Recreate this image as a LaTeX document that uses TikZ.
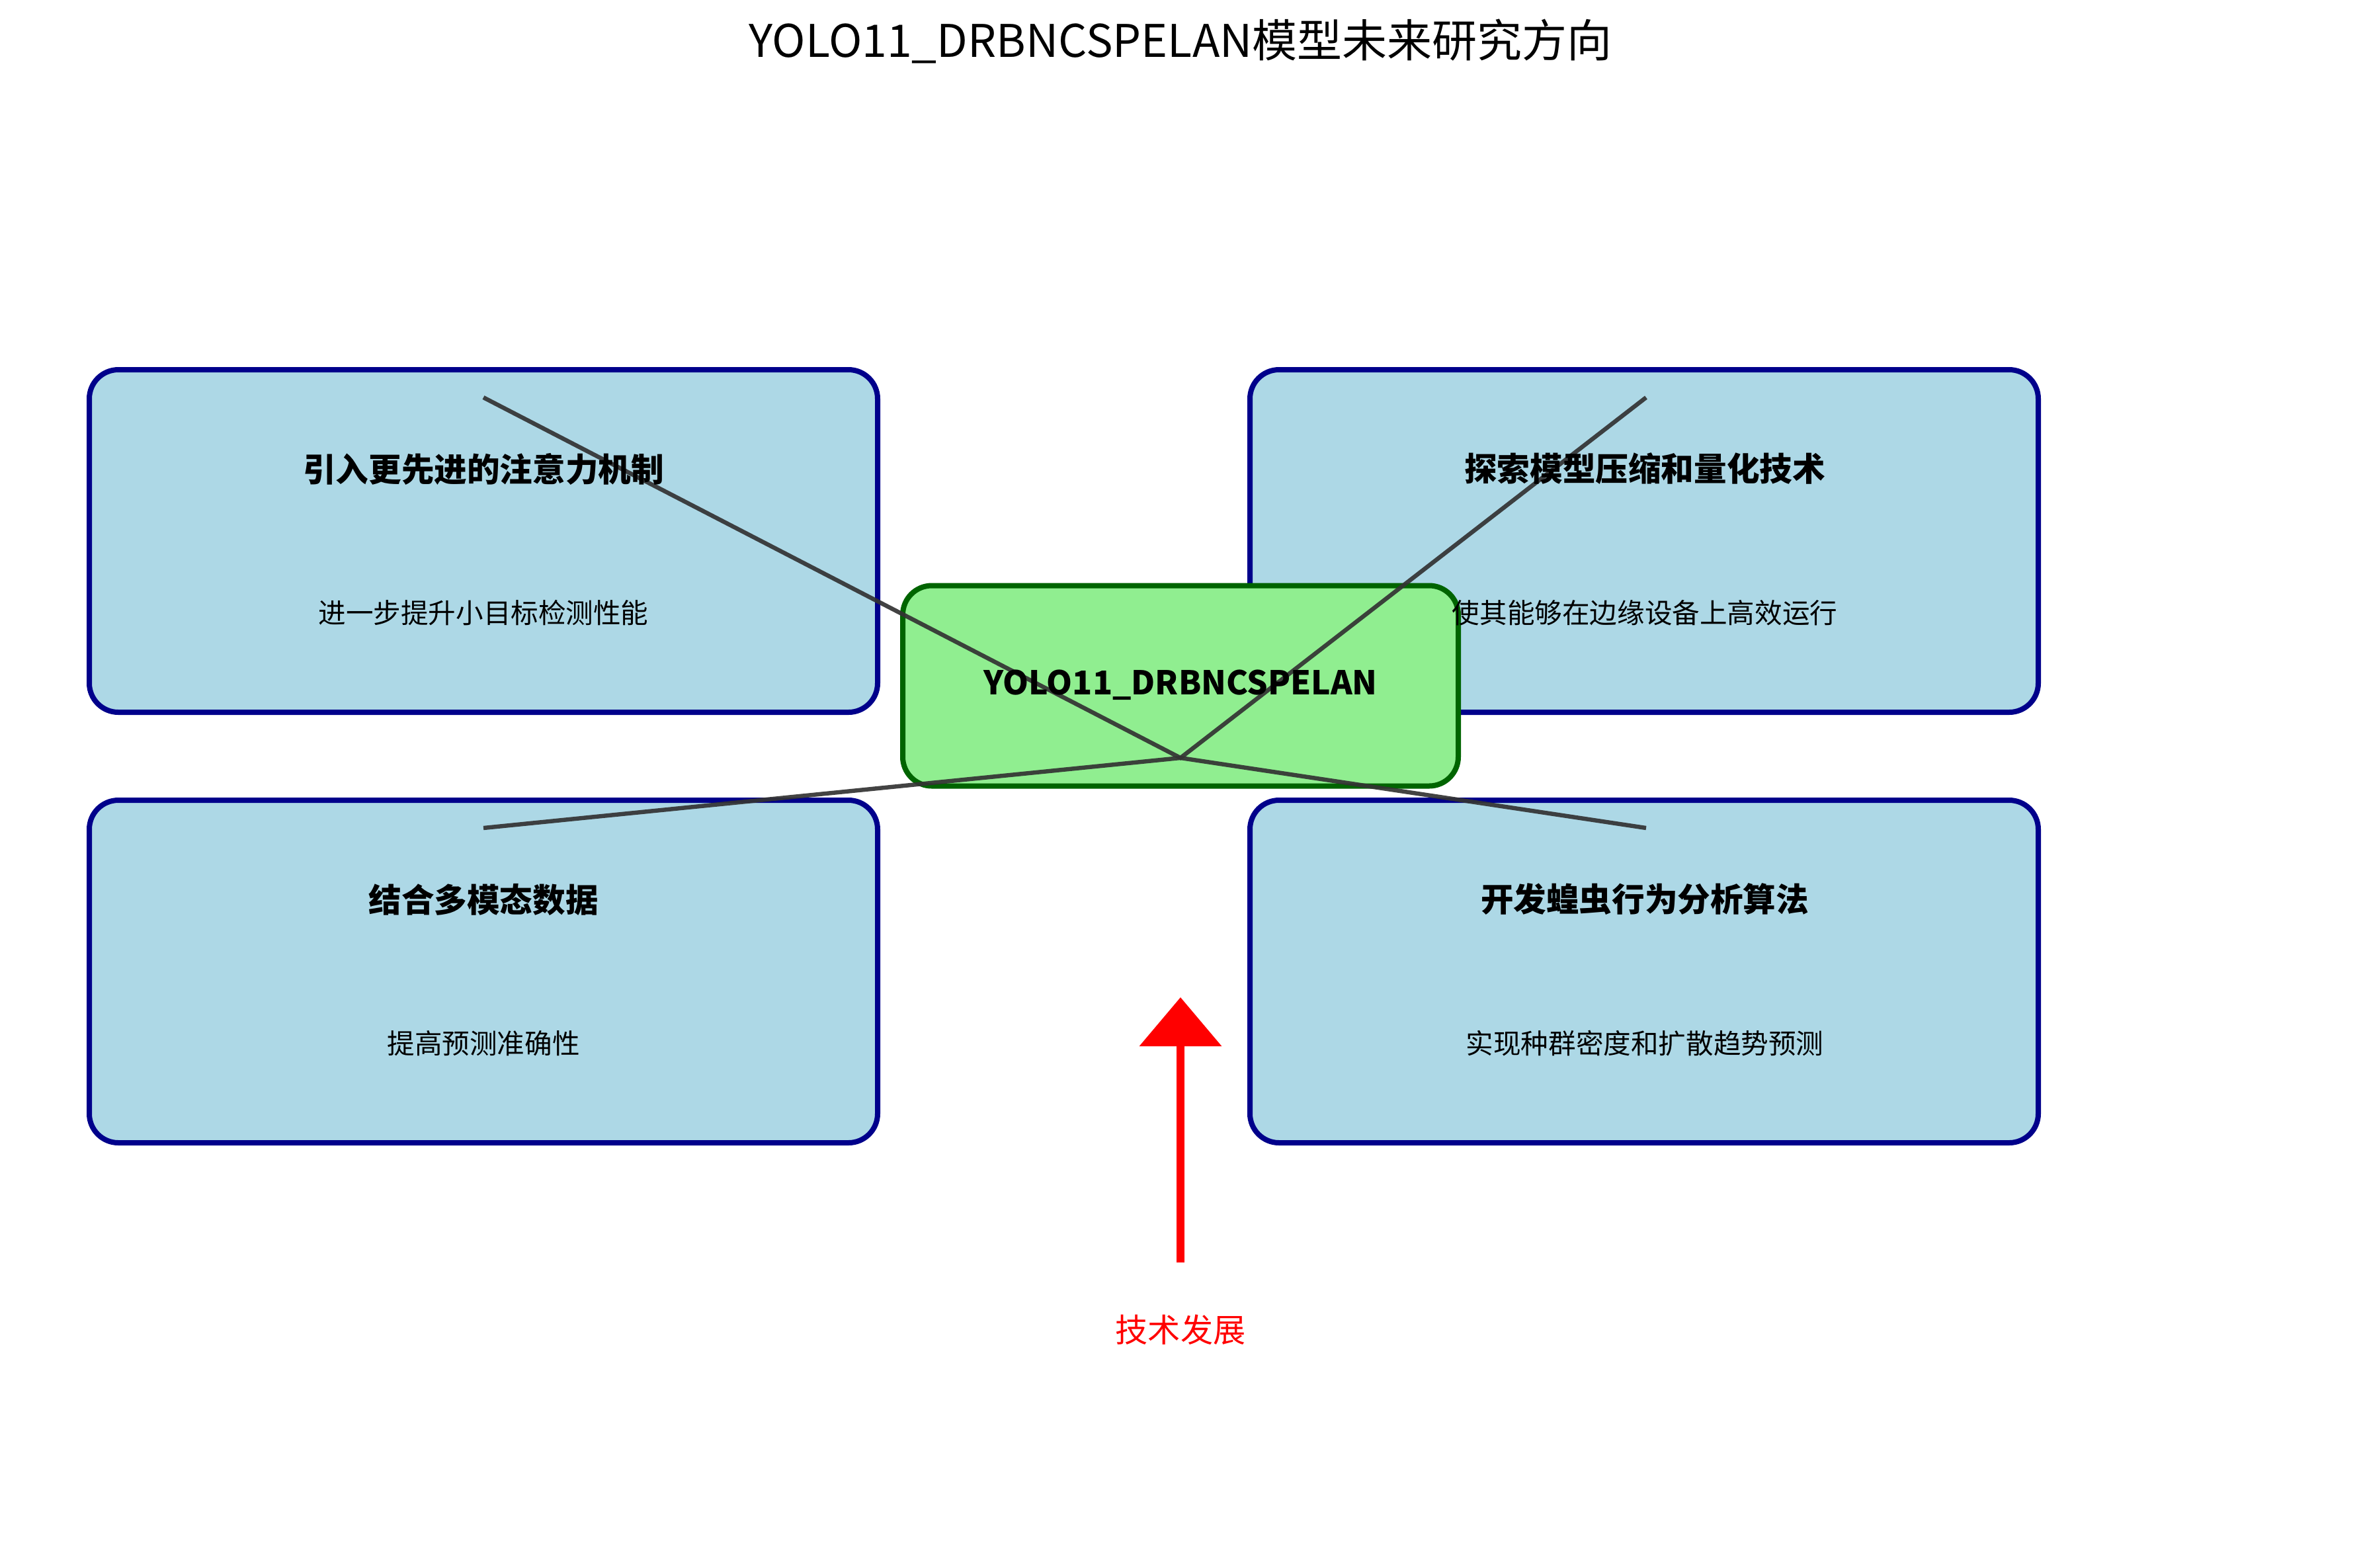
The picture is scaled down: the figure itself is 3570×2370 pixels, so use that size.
\documentclass[tikz,border=0pt]{standalone}
\usepackage{fontspec}
\setmainfont{Noto Sans CJK SC}
\usetikzlibrary{arrows.meta}
\definecolor{boxblue}{HTML}{ADD8E6}
\definecolor{boxnavy}{HTML}{00008B}
\definecolor{boxgreen}{HTML}{90EE90}
\definecolor{boxdkgreen}{HTML}{006400}
\definecolor{linkgray}{HTML}{333333}
\tikzset{
  bluebox/.style={draw=boxnavy, fill=boxblue, line width=2pt, rounded corners=11pt,
    minimum width=298pt, minimum height=129.5pt, inner sep=0pt},
  greenbox/.style={draw=boxdkgreen, fill=boxgreen, line width=2pt, rounded corners=11pt,
    minimum width=210pt, minimum height=75.75pt, inner sep=0pt},
  headtxt/.style={inner sep=0pt, font=\fontsize{12.4}{14}\selectfont\bfseries},
  subtxt/.style={inner sep=0pt, font=\fontsize{10.4}{12}\selectfont},
  link/.style={draw=linkgray, line width=1.6pt, draw opacity=0.92},
  devarrow/.style={draw=red, line width=2.9pt, -{Triangle[length=18.5pt,width=30.5pt]}}
}
\begin{document}
\begin{tikzpicture}[x=0.25pt,y=-0.25pt]
\useasboundingbox[fill=white] (0,0) rectangle (3570,2370);
% boxes
\node[bluebox] (b1) at (731,818) {};
\node[bluebox] (b2) at (2486,818) {};
\node[bluebox] (b3) at (731,1469) {};
\node[bluebox] (b4) at (2486,1469) {};
\node[greenbox] (c) at (1785,1037) {};
% connector points
\coordinate (hub) at (1785,1146);
\coordinate (p1) at (731,601);
\coordinate (p2) at (2489,601);
\coordinate (p3) at (731,1252);
\coordinate (p4) at (2489,1252);
\draw[link] (p1) -- (hub) -- (p2);
\draw[link] (p3) -- (hub) -- (p4);
% texts
\node[inner sep=0pt, font=\fontsize{17}{20}\selectfont] (title) at (1785,62) {YOLO11\_DRBNCSPELAN模型未来研究方向};
\node[headtxt] (ctext) at (1785,1036) {YOLO11\_DRBNCSPELAN};
\node[headtxt] (h1) at (731,709) {引入更先进的注意力机制};
\node[subtxt] (s1) at (731,927) {进一步提升小目标检测性能};
\node[headtxt] (h2) at (2487,709) {探索模型压缩和量化技术};
\node[subtxt] (s2) at (2487,927) {使其能够在边缘设备上高效运行};
\node[headtxt] (h3) at (731,1360) {结合多模态数据};
\node[subtxt] (s3) at (731,1578) {提高预测准确性};
\node[headtxt] (h4) at (2487,1360) {开发蝗虫行为分析算法};
\node[subtxt] (s4) at (2487,1578) {实现种群密度和扩散趋势预测};
% development arrow
\coordinate (abase) at (1785,1909);
\coordinate (atip) at (1785,1508);
\draw[devarrow] (abase) -- (atip);
\node[inner sep=0pt, text=red, font=\fontsize{12.3}{14}\selectfont] (dev) at (1785,2011) {技术发展};
\end{tikzpicture}
\end{document}
